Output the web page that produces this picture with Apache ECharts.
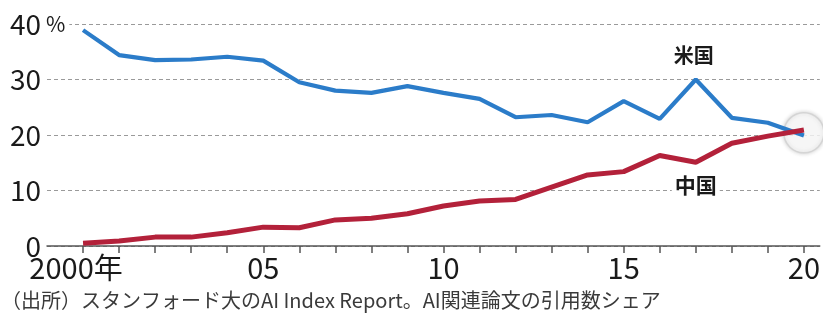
<!DOCTYPE html>
<html>
<head>
<meta charset="utf-8">
<script src="https://cdn.jsdelivr.net/npm/echarts@6/dist/echarts.min.js"></script>
<style>
  html, body { margin: 0; padding: 0; background: #fff; }
  #chart { width: 823px; height: 323px; }
</style>
</head>
<body>
<div id="chart"></div>
<script>
// AI関連論文の引用数シェア（％）
const years = [2000, 2001, 2002, 2003, 2004, 2005, 2006, 2007, 2008, 2009, 2010,
               2011, 2012, 2013, 2014, 2015, 2016, 2017, 2018, 2019, 2020];
const usShare = [38.9, 34.4, 33.5, 33.6, 34.1, 33.4, 29.5, 28.0, 27.6, 28.8, 27.6,
                 26.5, 23.2, 23.6, 22.3, 26.1, 22.9, 30.0, 23.1, 22.2, 19.9];
const chinaShare = [0.5, 0.9, 1.6, 1.6, 2.4, 3.4, 3.3, 4.7, 5.0, 5.8, 7.2,
                    8.1, 8.4, 10.6, 12.8, 13.4, 16.3, 15.1, 18.5, 19.8, 20.9];
const xLabelYears = [2000, 2005, 2010, 2015, 2020];
const yTicks = [0, 10, 20, 30, 40];
const crossing = [2020, 20.4];
const seriesNames = ['米国', '中国'];
const sourceNote = '（出所）スタンフォード大のAI Index Report。AI関連論文の引用数シェア';

const FONT = '"Noto Sans CJK JP", "Noto Sans", sans-serif';
const BLUE = '#2b7cc9';
const RED = '#b3213a';

const chart = echarts.init(document.getElementById('chart'));

const option = {
  backgroundColor: '#fff',
  animation: false,
  grid: { left: 47, right: 0, top: 24, bottom: 77, containLabel: false },
  xAxis: {
    type: 'value',
    min: 1999,
    max: 2020.44,
    interval: 1,
    splitLine: { show: false },
    axisLine: { show: true, lineStyle: { color: '#555', width: 1.5 } },
    axisTick: {
      show: true, length: 7, inside: false,
      customValues: years,
      lineStyle: { color: '#555', width: 1.5 }
    },
    axisLabel: {
      customValues: xLabelYears,
      margin: 7,
      fontFamily: FONT, fontSize: 29, color: '#1a1a1a',
      formatter: v => v === 2000 ? '{first|2000年}' : String(v % 100).padStart(2, '0'),
      rich: {
        first: { fontFamily: FONT, fontSize: 29, color: '#1a1a1a', padding: [0, 14, 0, 0] }
      }
    }
  },
  yAxis: {
    type: 'value',
    min: 0, max: 40, interval: 10,
    axisLine: { show: false },
    axisTick: { show: false },
    splitLine: {
      show: true,
      lineStyle: { color: '#9a9a9a', type: [4, 3], width: 1.2 }
    },
    axisLabel: {
      margin: 6,
      fontFamily: FONT, fontSize: 28, color: '#1a1a1a',
      customValues: yTicks
    }
  },
  series: [
    {
      name: 'crossing',
      type: 'scatter',
      data: [crossing],
      symbol: 'circle',
      symbolSize: 40,
      z: 1,
      silent: true,
      itemStyle: {
        color: '#fff', borderColor: '#d0d0d0', borderWidth: 1.5,
        shadowBlur: 4, shadowColor: 'rgba(0,0,0,0.22)'
      }
    },
    {
      name: seriesNames[0],
      type: 'line',
      data: years.map((y, i) => [y, usShare[i]]),
      symbol: 'none',
      z: 3,
      lineStyle: { color: BLUE, width: 4.2 }
    },
    {
      name: seriesNames[1],
      type: 'line',
      data: years.map((y, i) => [y, chinaShare[i]]),
      symbol: 'none',
      z: 4,
      lineStyle: { color: RED, width: 5 }
    }
  ]
};

chart.setOption(option);

// Unit mark and series names placed via the axes' scales
const pctPos = chart.convertToPixel({ gridIndex: 0 }, [1999, 40]);
const usPos = chart.convertToPixel({ gridIndex: 0 }, [2017, 34.5]);
const cnPos = chart.convertToPixel({ gridIndex: 0 }, [2017, 11]);

chart.setOption({
  graphic: [
    {
      type: 'text', x: pctPos[0] - 2, y: pctPos[1], z: 10,
      style: {
        text: '%', fontFamily: FONT, fontSize: 21, fill: '#1a1a1a',
        verticalAlign: 'middle',
        backgroundColor: '#fff', padding: [0, 4, 0, 1]
      }
    },
    {
      type: 'text', x: usPos[0] - 2, y: usPos[1] + 1, z: 10,
      style: {
        text: seriesNames[0], fontFamily: FONT, fontSize: 20, fontWeight: 'bold',
        fill: '#1a1a1a', align: 'center', verticalAlign: 'middle'
      }
    },
    {
      type: 'text', x: cnPos[0], y: cnPos[1], z: 10,
      style: {
        text: seriesNames[1], fontFamily: FONT, fontSize: 21, fontWeight: 'bold',
        fill: '#1a1a1a', align: 'center', verticalAlign: 'middle',
        backgroundColor: '#fff', padding: [0, 3]
      }
    },
    {
      type: 'text', left: 1, top: 290, z: 10,
      style: {
        text: sourceNote, fontFamily: FONT, fontSize: 20, fill: '#3a3a3a'
      }
    }
  ]
});
</script>
</body>
</html>
